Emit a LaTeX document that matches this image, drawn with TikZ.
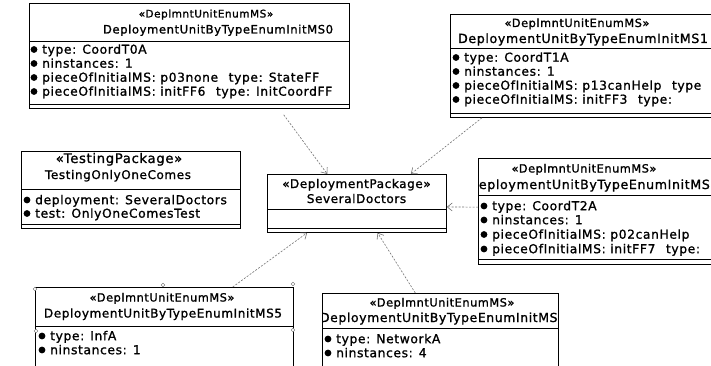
\documentclass[tikz,border=0pt]{standalone}
\usepackage{fontspec}
\setmainfont{DejaVu Sans}
\newfontfamily\umlfont[LetterSpace=5,FakeBold=1.2]{DejaVu Sans}
\usetikzlibrary{arrows.meta,calc}
\newcommand{\attrrow}[5]{%
  \node[bul] (#1b#2) at (#3,#4) {};
  \node[attr] (#1a#2) at ($(#3,#4)+(8,4.2)$) {#5};}
\begin{document}
\begin{tikzpicture}[x=1pt,y=-1pt,
  umlbox/.style={draw=black, line width=0.8pt, fill=white, rectangle, inner sep=0pt, anchor=north west},
  stereo/.style={font=\umlfont\fontsize{11.3}{12}\selectfont, inner sep=0pt, anchor=base},
  cname/.style={font=\umlfont\fontsize{12}{13}\selectfont, inner sep=0pt, anchor=base},
  attr/.style={font=\umlfont\fontsize{12.3}{13}\selectfont, inner sep=0pt, anchor=base west},
  bul/.style={circle, fill=black, inner sep=0pt, minimum size=6.8pt},
  sep/.style={draw=black, line width=0.8pt},
  dep/.style={draw=black!55, line width=0.6pt, dash pattern=on 2pt off 1.5pt, -{Straight Barb[length=5pt,width=8pt]}},
  handle/.style={draw=black!60, line width=0.4pt, fill=white},
]
\useasboundingbox (0,0) rectangle (711,366);
\clip (0,0) rectangle (711,366);
\fill[white] (0,0) rectangle (711,366);

% ---------- MS0 ----------
\node[umlbox, minimum width=320pt, minimum height=105pt] (ms0) at (29,3) {};
\draw[sep] ($(ms0.north west)+(0,38)$) -- ($(ms0.north east)+(0,38)$);
\draw[sep] ($(ms0.south west)+(0,-4)$) -- ($(ms0.south east)+(0,-4)$);
\node[stereo, font=\umlfont\fontsize{10.5}{12}\selectfont] (ms0s) at (206,17.5) {«DeplmntUnitEnumMS»};
\node[cname, font=\umlfont\fontsize{11.6}{13}\selectfont] (ms0n) at (218,33.5) {DeploymentUnitByTypeEnumInitMS0};
\attrrow{ms0}{1}{34}{49.5}{type: CoordT0A}
\attrrow{ms0}{2}{34}{63.5}{ninstances: 1}
\attrrow{ms0}{3}{34}{77.5}{pieceOfInitialMS: p03none\hspace{6pt} type: StateFF}
\attrrow{ms0}{4}{34}{91.5}{pieceOfInitialMS: initFF6\hspace{6pt} type: InitCoordFF}

% ---------- MS1 ----------
\node[umlbox, minimum width=270pt, minimum height=103pt] (ms1) at (450,14) {};
\draw[sep] ($(ms1.north west)+(0,34)$) -- ($(ms1.north east)+(0,34)$);
\draw[sep] ($(ms1.south west)+(0,-4)$) -- ($(ms1.south east)+(0,-4)$);
\node[stereo] (ms1s) at (577,27) {«DeplmntUnitEnumMS»};
\node[cname, font=\umlfont\fontsize{12.6}{13}\selectfont] (ms1n) at (583,43) {DeploymentUnitByTypeEnumInitMS1};
\attrrow{ms1}{1}{456}{57.5}{type: CoordT1A}
\attrrow{ms1}{2}{456}{71.5}{ninstances: 1}
\attrrow{ms1}{3}{456}{85.5}{pieceOfInitialMS: p13canHelp\hspace{6pt} type}
\attrrow{ms1}{4}{456}{99.5}{pieceOfInitialMS: initFF3\hspace{6pt} type:}

% ---------- TestingPackage ----------
\node[umlbox, minimum width=219pt, minimum height=77pt] (tp) at (21,151) {};
\draw[sep] ($(tp.north west)+(0,38)$) -- ($(tp.north east)+(0,38)$);
\draw[sep] ($(tp.south west)+(0,-4)$) -- ($(tp.south east)+(0,-4)$);
\node[cname, font=\umlfont\fontsize{13.2}{14}\selectfont] (tps) at (119,163) {«TestingPackage»};
\node[cname] (tpn) at (118,179) {TestingOnlyOneComes};
\attrrow{tp}{1}{27}{200}{deployment: SeveralDoctors}
\attrrow{tp}{2}{27}{213.5}{test: OnlyOneComesTest}

% ---------- SeveralDoctors ----------
\node[umlbox, minimum width=179pt, minimum height=58pt] (sd) at (267,174) {};
\draw[sep] ($(sd.north west)+(0,35)$) -- ($(sd.north east)+(0,35)$);
\draw[sep] ($(sd.south west)+(0,-4)$) -- ($(sd.south east)+(0,-4)$);
\node[cname] (sds) at (356.5,188) {«DeploymentPackage»};
\node[cname] (sdn) at (356.5,203) {SeveralDoctors};

% ---------- MS2 (right middle) ----------
\node[umlbox, minimum width=242pt, minimum height=106pt] (ms2) at (478,158) {};
\draw[sep] ($(ms2.north west)+(0,37)$) -- ($(ms2.north east)+(0,37)$);
\draw[sep] ($(ms2.south west)+(0,-5)$) -- ($(ms2.south east)+(0,-5)$);
\begin{scope}
\clip (ms2.north west) rectangle (ms2.south east);
\node[stereo] (ms2s) at (584,172.5) {«DeplmntUnitEnumMS»};
\node[cname, anchor=base east, font=\umlfont\fontsize{12.6}{13}\selectfont] (ms2n) at (710,189) {DeploymentUnitByTypeEnumInitMS};
\end{scope}
\attrrow{ms2}{1}{484}{206}{type: CoordT2A}
\attrrow{ms2}{2}{484}{220}{ninstances: 1}
\attrrow{ms2}{3}{484}{234.5}{pieceOfInitialMS: p02canHelp}
\attrrow{ms2}{4}{484}{249}{pieceOfInitialMS: initFF7\hspace{6pt} type:}

% ---------- MS5 (bottom left) ----------
\node[umlbox, minimum width=258pt, minimum height=90pt] (ms5) at (35,287) {};
\draw[sep] ($(ms5.north west)+(0,39)$) -- ($(ms5.north east)+(0,39)$);
\node[stereo] (ms5s) at (162,301.5) {«DeplmntUnitEnumMS»};
\node[cname] (ms5n) at (163,317.5) {DeploymentUnitByTypeEnumInitMS5};
\attrrow{ms5}{1}{42}{336}{type: InfA}
\attrrow{ms5}{2}{42}{350}{ninstances: 1}
\foreach \hx/\hy in {35/289, 163/285, 293/284, 36/331, 293/330}
  \draw[handle] (\hx,\hy) circle (1.8pt);

% ---------- MS4 (bottom middle) ----------
\node[umlbox, minimum width=236pt, minimum height=90pt] (ms4) at (322,293) {};
\draw[sep] ($(ms4.north west)+(0,35)$) -- ($(ms4.north east)+(0,35)$);
\begin{scope}
\clip (ms4.north west) rectangle (ms4.south east);
\node[stereo] (ms4s) at (442,306.5) {«DeplmntUnitEnumMS»};
\node[cname, font=\umlfont\fontsize{12.4}{13}\selectfont] (ms4n) at (443,322) {DeploymentUnitByTypeEnumInitMS4};
\end{scope}
\attrrow{ms4}{1}{328}{339}{type: NetworkA}
\attrrow{ms4}{2}{328}{353}{ninstances: 4}

% ---------- dependencies ----------
\draw[dep] ($(ms0.south west)!0.794!(ms0.south east)+(0,6)$) -- ($(sd.north west)!0.335!(sd.north east)$);
\draw[dep] ($(ms1.south west)!0.118!(ms1.south east)$) -- ($(sd.north west)!0.80!(sd.north east)$);
\draw[dep] ($(ms2.north west)!0.46!(ms2.south west)$) -- ($(sd.north east)!0.56!(sd.south east)$);
\draw[dep] ($(ms5.north west)!0.764!(ms5.north east)$) -- ($(sd.south west)!0.223!(sd.south east)$);
\draw[dep] ($(ms4.north west)!0.394!(ms4.north east)$) -- ($(sd.south west)!0.615!(sd.south east)$);
\end{tikzpicture}
\end{document}
